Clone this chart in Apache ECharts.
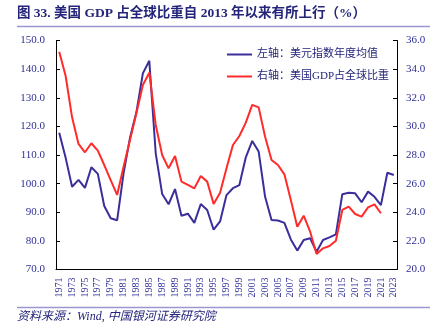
<!DOCTYPE html>
<html>
<head>
<meta charset="utf-8">
<style>
  html, body { margin: 0; padding: 0; background: #ffffff; }
  #chart { width: 440px; height: 323px; }
</style>
<script src="https://cdn.jsdelivr.net/npm/echarts@6/dist/echarts.min.js"></script>
</head>
<body>
<div id="chart"></div>
<script>
// Years on the category axis
const years = [];
for (let y = 1971; y <= 2023; y++) years.push(String(y));

// Annual average of the US dollar index (left axis)
const dollarIndex = [
  117.8, 109.0, 98.9, 101.3, 98.5, 105.7, 103.4, 92.2, 87.9, 87.2,
  103.6, 116.0, 125.0, 138.5, 142.9, 110.6, 96.4, 92.8, 98.1, 88.8,
  89.5, 86.3, 92.9, 90.8, 83.9, 86.8, 96.0, 98.4, 99.5, 109.2,
  114.9, 111.2, 95.4, 87.3, 87.1, 86.3, 80.5, 76.6, 80.3, 80.9,
  76.2, 80.3, 81.2, 82.3, 96.3, 96.8, 96.6, 93.5, 97.2, 95.4,
  92.5, 103.8, 103.0
];

// US share of world GDP, % (right axis), available through 2021
const usGdpShare = [
  35.22, 33.52, 30.63, 28.77, 28.19, 28.82, 28.30, 27.30, 26.25, 25.21,
  27.18, 29.05, 30.92, 32.89, 33.75, 30.10, 28.00, 27.07, 27.93, 26.14,
  25.91, 25.67, 26.53, 26.14, 24.58, 25.37, 27.07, 28.70, 29.33, 30.26,
  31.50, 31.33, 29.28, 27.65, 27.30, 26.65, 24.86, 22.99, 23.76, 22.64,
  21.08, 21.48, 21.64, 22.01, 24.16, 24.39, 23.88, 23.69, 24.34, 24.55,
  23.93, null, null
];

const seriesNames = ['左轴：美元指数年度均值', '右轴：美国GDP占全球比重'];
const titleText = '图 33. 美国 GDP 占全球比重自 2013 年以来有所上行（%）';
const sourceText = '资料来源：Wind, 中国银河证券研究院';

const SERIF = '"Liberation Serif", "Noto Sans CJK SC", serif';
const NAVY = '#24247a';
const LABEL = '#2f2f96';
const RULE = '#9a96cf';
const BLUE = '#3a2f9a';
const RED = '#ff2b2b';

const chart = echarts.init(document.getElementById('chart'), null, { renderer: 'canvas' });

chart.setOption({
  animation: false,
  backgroundColor: '#ffffff',
  graphic: [
    {
      type: 'text', left: 17, top: 7,
      style: { text: titleText, font: 'bold 13.5px ' + SERIF, fill: NAVY }
    },
    {
      type: 'line', shape: { x1: 17, y1: 26.5, x2: 430, y2: 26.5 },
      style: { stroke: RULE, lineWidth: 1.5 }
    },
    {
      type: 'line', shape: { x1: 17, y1: 307.5, x2: 430, y2: 307.5 },
      style: { stroke: RULE, lineWidth: 1.5 }
    },
    {
      type: 'text', left: 17, top: 311,
      style: { text: sourceText, font: 'italic 12px ' + SERIF, fill: NAVY }
    }
  ],
  legend: {
    orient: 'vertical',
    left: 222,
    top: 43,
    icon: 'rect',
    itemWidth: 25,
    itemHeight: 2,
    itemGap: 9,
    textStyle: { fontFamily: SERIF, fontSize: 11, color: NAVY, lineHeight: 13 },
    data: seriesNames
  },
  grid: { left: 56, right: 43, top: 40.5, bottom: 53.5 },
  xAxis: {
    type: 'category',
    data: years,
    boundaryGap: true,
    axisLine: { lineStyle: { color: '#000', width: 1 } },
    axisTick: { inside: true, length: 4, interval: 1, lineStyle: { color: '#000' } },
    axisLabel: {
      interval: 1, rotate: 90, margin: 8,
      fontFamily: SERIF, fontSize: 10, color: LABEL
    },
    splitLine: { show: false }
  },
  yAxis: [
    {
      type: 'value', min: 70, max: 150, interval: 10, position: 'left',
      axisLine: { show: true, lineStyle: { color: '#000', width: 1 } },
      axisTick: { show: true, inside: true, length: 4, lineStyle: { color: '#000' } },
      axisLabel: {
        margin: 11, fontFamily: SERIF, fontSize: 11, color: LABEL,
        formatter: v => v.toFixed(1)
      },
      splitLine: { show: false }
    },
    {
      type: 'value', min: 20, max: 36, interval: 2, position: 'right',
      axisLine: { show: true, lineStyle: { color: '#000', width: 1 } },
      axisTick: { show: true, inside: true, length: 4, lineStyle: { color: '#000' } },
      axisLabel: {
        margin: 9, fontFamily: SERIF, fontSize: 11, color: LABEL,
        formatter: v => v.toFixed(1)
      },
      splitLine: { show: false }
    }
  ],
  series: [
    {
      name: seriesNames[0], type: 'line', yAxisIndex: 0,
      data: dollarIndex, symbol: 'none',
      lineStyle: { color: BLUE, width: 2 },
      itemStyle: { color: BLUE }
    },
    {
      name: seriesNames[1], type: 'line', yAxisIndex: 1,
      data: usGdpShare, symbol: 'none',
      lineStyle: { color: RED, width: 2 },
      itemStyle: { color: RED }
    }
  ]
});
</script>
</body>
</html>
